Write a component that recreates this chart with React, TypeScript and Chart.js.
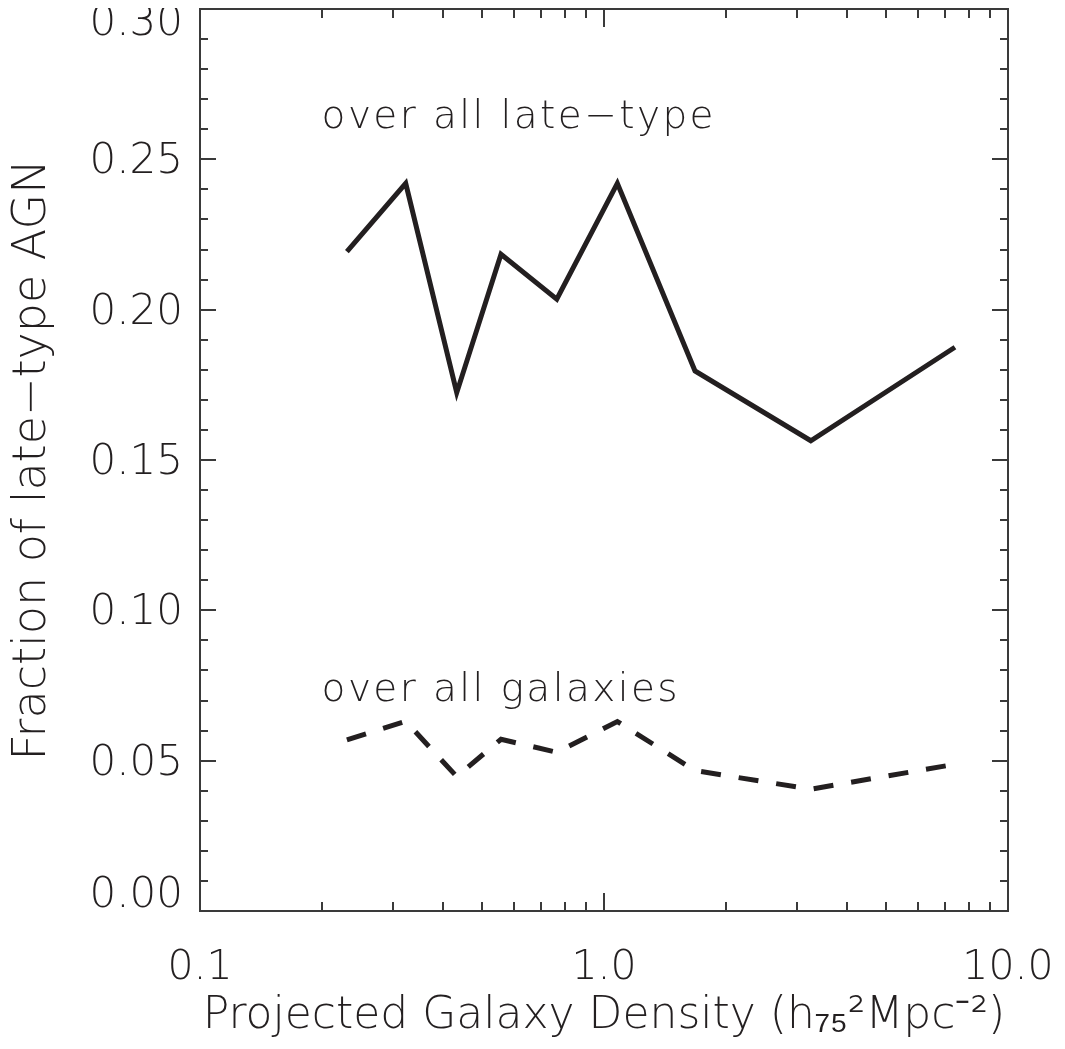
import { useEffect, useRef } from 'react';
import { Chart, registerables } from 'chart.js';

Chart.register(...registerables);

// Projected galaxy density bins (h75^2 Mpc^-2)
const density = [0.231, 0.323, 0.432, 0.556, 0.764, 1.079, 1.68, 3.25, 7.39];
// Fraction of AGN among late-type galaxies
const lateTypeFraction = [0.2193, 0.242, 0.1724, 0.2184, 0.2035, 0.242, 0.1796, 0.1564, 0.1875];
// Fraction of late-type AGN among all galaxies
const allGalaxyFraction = [0.0569, 0.0631, 0.0447, 0.0571, 0.0528, 0.063, 0.0467, 0.0405, 0.0488];

// Axis ticks
const xTickValues = [0.1, 0.2, 0.3, 0.4, 0.5, 0.6, 0.7, 0.8, 0.9, 1, 2, 3, 4, 5, 6, 7, 8, 9, 10];
const xTickLabels: Record<string, string> = { '0.1': '0.1', '1': '1.0', '10': '10.0' };
const yTickValues = [0, 0.05, 0.1, 0.15, 0.2, 0.25, 0.3];
const yTickLabels = ['0.00', '0.05', '0.10', '0.15', '0.20', '0.25', '0.30'];
const yMinorStep = 0.01;

const ink = '#231f20';
const axisInk = '#3a3a3a';
const family = '"DejaVu Sans", "Liberation Sans", sans-serif';
const weight = 200;

const curveLabels = [
  { text: 'over all late−type', x: 0.2, y: 0.2604 },
  { text: 'over all galaxies', x: 0.2, y: 0.0698 },
];

const framePlugin = {
  id: 'idlFrame',
  afterDraw(chart: any) {
    const { ctx, chartArea: a, scales } = chart;
    const xs = scales.x;
    const ys = scales.y;
    ctx.save();
    ctx.strokeStyle = axisInk;
    ctx.lineWidth = 2;
    ctx.strokeRect(a.left, a.top, a.right - a.left, a.bottom - a.top);

    // y ticks on both sides, pointing inwards
    ctx.beginPath();
    const nMinor = Math.round(0.3 / yMinorStep);
    for (let i = 0; i <= nMinor; i++) {
      const v = i * yMinorStep;
      const py = Math.round(ys.getPixelForValue(v));
      const len = i % 5 === 0 ? 16 : 8;
      ctx.moveTo(a.left, py);
      ctx.lineTo(a.left + len, py);
      ctx.moveTo(a.right, py);
      ctx.lineTo(a.right - len, py);
    }
    // x ticks on top and bottom
    for (const v of xTickValues) {
      const px = Math.round(xs.getPixelForValue(v));
      const len = xTickLabels[String(v)] ? 18 : 9;
      ctx.moveTo(px, a.bottom);
      ctx.lineTo(px, a.bottom - len);
      ctx.moveTo(px, a.top);
      ctx.lineTo(px, a.top + len);
    }
    ctx.stroke();

    // y tick labels, kept within the vertical extent of the plot
    ctx.fillStyle = ink;
    ctx.font = `${weight} 42px ${family}`;
    ctx.textAlign = 'right';
    ctx.textBaseline = 'middle';
    const half = 15;
    yTickValues.forEach((v, i) => {
      let py = ys.getPixelForValue(v) + 3;
      py = Math.min(Math.max(py, a.top + half), a.bottom - half);
      ctx.fillText(yTickLabels[i], a.left - 17, py);
    });

    // curve labels
    ctx.font = `${weight} 39px ${family}`;
    ctx.textAlign = 'left';
    ctx.textBaseline = 'alphabetic';
    (ctx as any).letterSpacing = '2.4px';
    for (const c of curveLabels) {
      ctx.fillText(c.text, xs.getPixelForValue(c.x), ys.getPixelForValue(c.y));
    }
    ctx.restore();
  },
};

export default function App() {
  const ref = useRef<HTMLCanvasElement | null>(null);

  useEffect(() => {
    const canvas = ref.current;
    if (!canvas) return;
    const chart = new Chart(canvas, {
      type: 'line',
      data: {
        datasets: [
          {
            label: 'over all late−type',
            data: density.map((d, i) => ({ x: d, y: lateTypeFraction[i] })),
            borderColor: ink,
            borderWidth: 5,
            pointRadius: 0,
            tension: 0,
            fill: false,
          },
          {
            label: 'over all galaxies',
            data: density.map((d, i) => ({ x: d, y: allGalaxyFraction[i] })),
            borderColor: ink,
            borderWidth: 5,
            borderDash: [20, 18],
            pointRadius: 0,
            tension: 0,
            fill: false,
          },
        ],
      },
      options: {
        animation: false,
        responsive: false,
        devicePixelRatio: 1,
        events: [],
        layout: { padding: { top: 1, right: 49, left: 0, bottom: 0 } },
        plugins: { legend: { display: false }, tooltip: { enabled: false } },
        scales: {
          x: {
            type: 'logarithmic',
            min: 0.1,
            max: 10,
            grid: { display: false },
            border: { display: false },
            afterBuildTicks: (s: any) => {
              s.ticks = xTickValues.map((v) => ({ value: v }));
            },
            afterFit: (s: any) => {
              s.height = 130;
              s.paddingLeft = 0;
              s.paddingRight = 0;
            },
            ticks: {
              autoSkip: false,
              maxRotation: 0,
              minRotation: 0,
              padding: 25,
              color: ink,
              font: { family, size: 41, weight },
              callback: (v: any) => xTickLabels[String(v)] ?? '',
            },
            title: {
              display: true,
              text: 'Projected Galaxy Density (h₇₅²Mpc⁻²)',
              color: ink,
              font: { family, size: 44, lineHeight: 1, weight },
              padding: { top: 0, bottom: 2 },
            },
          },
          y: {
            type: 'linear',
            min: 0,
            max: 0.3,
            grid: { display: false },
            border: { display: false },
            ticks: { display: false, stepSize: yMinorStep },
            afterFit: (s: any) => {
              s.width = 192;
              s.paddingTop = 0;
              s.paddingBottom = 0;
            },
            title: {
              display: true,
              text: 'Fraction of late−type AGN',
              color: ink,
              font: { family, size: 46, lineHeight: 1, weight },
              padding: { top: 2, bottom: 0 },
            },
          },
        },
      } as any,
      plugins: [framePlugin],
    });
    return () => chart.destroy();
  }, []);

  return <canvas ref={ref} width={1049} height={1033} style={{ display: 'block' }} />;
}
